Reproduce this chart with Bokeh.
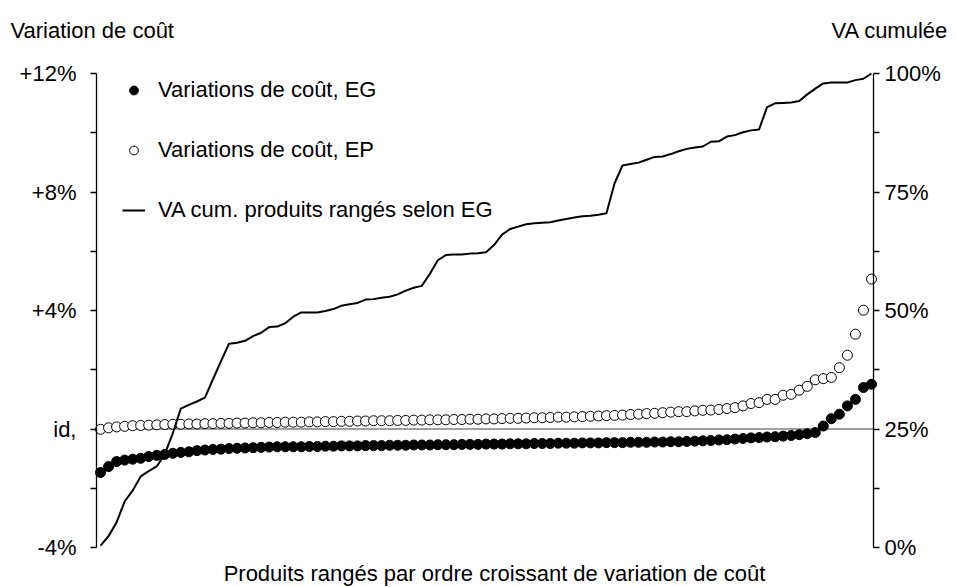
from bokeh.plotting import figure
from bokeh.models import (Range1d, LinearAxis, FixedTicker, Label, Legend, LegendItem)
from bokeh.embed import file_html
from bokeh.resources import INLINE

# ---- data ----
products = list(range(97))

cost_eg = [-1.47, -1.27, -1.10, -1.05, -1.02, -0.99, -0.93, -0.89, -0.86, -0.82,
           -0.79, -0.77, -0.73, -0.71, -0.69, -0.68, -0.66, -0.65, -0.64, -0.63,
           -0.62, -0.61, -0.60, -0.60,
           -0.60, -0.60, -0.59, -0.59, -0.58, -0.58, -0.57, -0.57, -0.57, -0.56,
           -0.56, -0.56, -0.55, -0.55, -0.55, -0.54, -0.54, -0.54, -0.53, -0.53,
           -0.53, -0.52, -0.52, -0.52, -0.51, -0.51, -0.51, -0.50, -0.50, -0.50,
           -0.49, -0.49, -0.49, -0.48, -0.48, -0.48, -0.47, -0.47, -0.47, -0.46,
           -0.46, -0.46, -0.45, -0.45, -0.45, -0.44, -0.44, -0.43,
           -0.43, -0.42, -0.41, -0.40, -0.39, -0.37, -0.36, -0.34, -0.32, -0.30,
           -0.29, -0.27, -0.26, -0.24, -0.22, -0.19, -0.16, -0.12, 0.10, 0.35,
           0.50, 0.78, 1.00, 1.40, 1.51]

cost_ep = [-0.01, 0.04, 0.07, 0.09, 0.11, 0.12, 0.13, 0.14, 0.15, 0.16,
           0.16, 0.17, 0.17, 0.18, 0.18, 0.19, 0.19, 0.20, 0.20, 0.21,
           0.21, 0.22, 0.22, 0.23,
           0.23, 0.23, 0.24, 0.24, 0.25, 0.25, 0.26, 0.26, 0.27, 0.27,
           0.28, 0.28, 0.28, 0.29, 0.29, 0.30, 0.30, 0.31, 0.31, 0.31,
           0.32, 0.32, 0.33, 0.33, 0.34, 0.34, 0.35, 0.36, 0.36, 0.37,
           0.38, 0.38, 0.39, 0.40, 0.40, 0.41, 0.42, 0.43, 0.44, 0.45,
           0.46, 0.47, 0.49, 0.50, 0.52, 0.53, 0.55, 0.57,
           0.585, 0.585, 0.61, 0.63, 0.64, 0.66, 0.69, 0.72, 0.78, 0.86,
           0.89, 1.00, 1.00, 1.14, 1.17, 1.31, 1.44, 1.66, 1.70, 1.74,
           2.07, 2.49, 3.20, 4.01, 5.06]

va_cum = [0.4, 2.4, 5.3, 9.7, 12.0, 15.0, 16.1, 17.1, 19.7, 24.1,
          29.3, 30.1, 30.8, 31.6, 35.5, 39.3, 43.0, 43.2, 43.6, 44.6,
          45.3, 46.5, 46.6, 47.3, 48.7, 49.6, 49.6, 49.6, 49.9, 50.3,
          51.0, 51.3, 51.6, 52.3, 52.4, 52.7, 52.9, 53.4, 54.2, 54.8,
          55.2, 57.7, 60.6, 61.7, 61.8, 61.8, 62.0, 62.1, 62.3, 63.8,
          66.0, 67.2, 67.7, 68.2, 68.4, 68.5, 68.6, 69.0, 69.3, 69.6,
          69.9, 70.0, 70.2, 70.5, 76.8, 80.6, 80.9, 81.2, 81.8, 82.4,
          82.5, 83.0, 83.6, 84.1, 84.4, 84.6, 85.6, 85.7, 86.7, 87.0,
          87.6, 88.0, 88.2, 92.9, 93.7, 93.8, 93.9, 94.2, 95.6, 96.8,
          97.9, 98.1, 98.1, 98.1, 98.6, 98.9, 100.0]

left_ticks = [-4, 0, 4, 8, 12]
left_tick_labels = ["-4%", "id,", "+4%", "+8%", "+12%"]
left_minor = [-2, 2, 6, 10]
right_ticks = [0, 25, 50, 75, 100]
right_tick_labels = ["0%", "25%", "50%", "75%", "100%"]
right_minor = [12.5, 37.5, 62.5, 87.5]

legend_labels = ["Variations de coût, EG", "Variations de coût, EP",
                 "VA cum. produits rangés selon EG"]
left_title = "Variation de coût"
right_title = "VA cumulée"
x_title = "Produits rangés par ordre croissant de variation de coût"

# ---- layout (pixels) ----
W, H = 957, 587
AX_L, AX_R = 96, 873          # left / right axis x-pixel
AX_T, AX_B = 73, 547          # top / bottom of the value axes
X0, X1 = -0.5, 96.25          # product-index extent between the two axes
YL0, YL1 = -4, 12             # left axis extent
YR0, YR1 = 0, 100             # right axis extent

FONT = "Liberation Sans"
FS = "22px"

kx = (AX_R - AX_L) / (X1 - X0)
kyl = (AX_B - AX_T) / (YL1 - YL0)
kyr = (AX_B - AX_T) / (YR1 - YR0)
x_range = Range1d(X0 - AX_L / kx, X1 + (W - AX_R) / kx)
y_range = Range1d(YL0 - (H - AX_B) / kyl, YL1 + AX_T / kyl)
va_range = Range1d(YR0 - (H - AX_B) / kyr, YR1 + AX_T / kyr)

p = figure(width=W, height=H, output_backend="svg", toolbar_location=None,
           x_range=x_range, y_range=y_range,
           x_axis_location=None, y_axis_location=None,
           min_border_left=0, min_border_right=0, min_border_top=0,
           min_border_bottom=0)
p.grid.visible = False
p.outline_line_color = None
p.background_fill_color = "white"
p.border_fill_color = "white"
p.extra_y_ranges = {"va": va_range}


def style_axis(ax, standoff):
    ax.major_tick_in = 0
    ax.major_tick_out = 6
    ax.minor_tick_in = 0
    ax.minor_tick_out = 6
    ax.axis_line_color = "black"
    ax.axis_line_width = 1.3
    ax.major_tick_line_color = "black"
    ax.major_tick_line_width = 1.3
    ax.minor_tick_line_color = "black"
    ax.minor_tick_line_width = 1.3
    ax.major_label_text_font = FONT
    ax.major_label_text_font_size = FS
    ax.major_label_text_color = "black"
    ax.major_label_standoff = standoff


la = LinearAxis(ticker=FixedTicker(ticks=left_ticks, minor_ticks=left_minor),
                major_label_overrides={t: s for t, s in zip(left_ticks, left_tick_labels)},
                fixed_location=X0, bounds=(YL0, YL1))
style_axis(la, 14)
p.add_layout(la, "left")

ra = LinearAxis(y_range_name="va",
                ticker=FixedTicker(ticks=right_ticks, minor_ticks=right_minor),
                major_label_overrides={t: s for t, s in zip(right_ticks, right_tick_labels)},
                fixed_location=X1, bounds=(YR0, YR1))
style_axis(ra, 5)
p.add_layout(ra, "right")

# zero reference line between the two axes
p.line([X0, X1], [0, 0], line_color="#808080", line_width=1.5)

r_eg = p.scatter(products, cost_eg, size=10, marker="circle",
                 fill_color="black", line_color="black", line_width=1)
r_ep = p.scatter(products, cost_ep, size=10, marker="circle",
                 fill_color="white", line_color="black", line_width=1)
r_va = p.line(products, va_cum, y_range_name="va", line_color="black", line_width=2)

legend = Legend(items=[LegendItem(label=legend_labels[0], renderers=[r_eg]),
                       LegendItem(label=legend_labels[1], renderers=[r_ep]),
                       LegendItem(label=legend_labels[2], renderers=[r_va])],
                location=(122, 364), padding=0, spacing=34, margin=0,
                glyph_width=23, glyph_height=22, label_height=22,
                label_standoff=13, label_text_font=FONT, label_text_font_size=FS,
                label_text_color="black",
                border_line_alpha=0, background_fill_alpha=0)
p.add_layout(legend)

p.add_layout(Label(x=10, y=H - 30, x_units="screen", y_units="screen", text=left_title,
                   text_font=FONT, text_font_size=FS, text_align="left",
                   text_baseline="middle", text_color="black"))
p.add_layout(Label(x=948, y=H - 30, x_units="screen", y_units="screen", text=right_title,
                   text_font=FONT, text_font_size=FS, text_align="right",
                   text_baseline="middle", text_color="black"))
p.add_layout(Label(x=494, y=2, x_units="screen", y_units="screen", text=x_title,
                   text_font=FONT, text_font_size=FS, text_align="center",
                   text_baseline="bottom", text_color="black"))

open("out.html", "w").write(file_html(p, INLINE))
